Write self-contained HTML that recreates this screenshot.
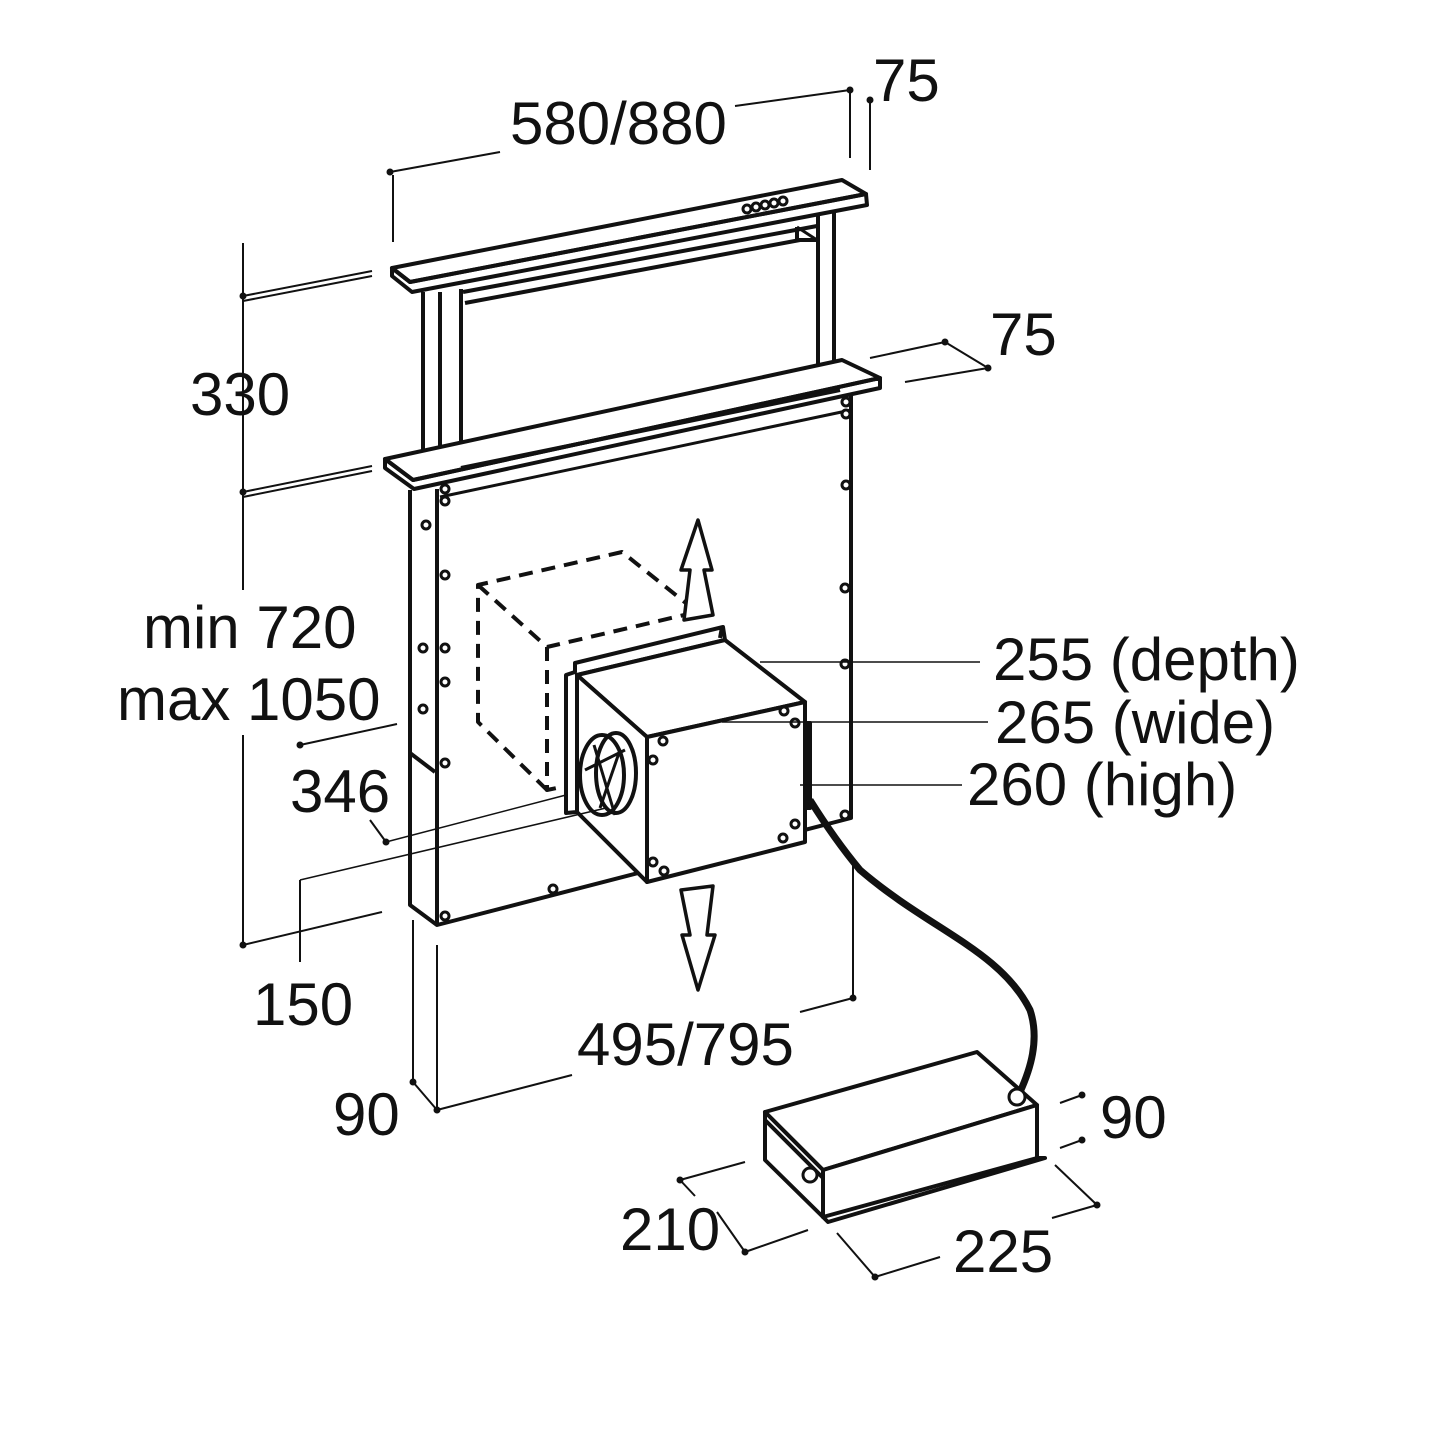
<!DOCTYPE html>
<html><head><meta charset="utf-8"><style>
html,body{margin:0;padding:0;background:#fff}
svg{display:block}
text{font-family:"Liberation Sans",sans-serif;font-size:60px;fill:#111}
</style></head><body>
<svg width="1445" height="1445" viewBox="0 0 1445 1445" xmlns="http://www.w3.org/2000/svg">
<g fill="none" stroke="#111" stroke-width="4" stroke-linejoin="round">
<polygon points="392,268 842,180 866,194 410,282" fill="#fff"/>
<polygon points="410,282 866,194 867,205 412,292 392,276 392,268"/>
<polyline points="423,292 423,467"/><polyline points="440,292 440,470"/><polyline points="461,289 461,465"/>
<polyline points="818,214 818,385"/><polyline points="834,211 834,382"/>
<polyline points="463,292 817,226"/><polyline points="465,303 800,240"/>
<polyline points="797,227 797,240 817,240"/><line x1="797" y1="227" x2="817" y2="240" stroke-width="3"/>
<polyline points="461,460 818,390"/>
<g stroke-width="3"><circle cx="747" cy="209" r="4"/><circle cx="756" cy="207" r="4"/><circle cx="765" cy="205" r="4"/><circle cx="774" cy="203" r="4"/><circle cx="783" cy="201" r="4"/></g>
<polygon points="385,459 842,360 880,378 413,480" fill="#fff"/>
<polygon points="413,480 880,378 880,388 414,489 385,468 385,459"/>
<polyline points="461,468 840,390"/>
<polyline points="410,490 410,905 437,925 851,818 851,395"/>
<polyline points="437,489 437,925"/>
<polyline points="410,753 435,772"/>
<polyline points="440,497 851,410" stroke-width="3"/>
<g stroke-dasharray="14,9">
<polyline points="547,790 478,722 478,585 622,552 697,612"/>
<polyline points="478,585 547,647 697,612"/>
<polyline points="547,647 547,790 566,786"/>
</g>
<polygon points="566,675 575,672 575,663 723,627 725,640 577,675 577,812 566,813" fill="#fff"/>
<polygon points="577,675 725,640 805,702 647,737" fill="#fff"/>
<polygon points="577,675 647,737 647,882 577,812" fill="#fff"/>
<polygon points="647,737 805,702 805,842 647,882" fill="#fff"/>
<line x1="720" y1="638" x2="722" y2="627"/>
<ellipse cx="602" cy="775" rx="22" ry="40"/><ellipse cx="616" cy="773" rx="20" ry="40"/>
<line x1="585" y1="770" x2="625" y2="750" stroke-width="3"/><line x1="594" y1="745" x2="615" y2="815" stroke-width="3"/><line x1="600" y1="808" x2="620" y2="750" stroke-width="3"/>
<rect x="805" y="723" width="5" height="85" fill="#111"/>
<path d="M810,800 Q835,840 860,870 C930,930 1000,950 1030,1010 C1040,1040 1030,1070 1020,1092" stroke-width="7"/>
<polygon points="698,520 712,570 704,570 713,615 684,620 690,570 681,570" fill="#fff" stroke-width="3.5"/>
<polygon points="681,890 713,886 707,935 715,935 698,990 682,935 690,935" fill="#fff" stroke-width="3.5"/>
<polygon points="765,1112 977,1052 1037,1105 823,1170" fill="#fff"/>
<polygon points="823,1170 1037,1105 1037,1158 823,1217" fill="#fff"/>
<polygon points="765,1112 823,1170 823,1217 765,1160" fill="#fff"/>
<polyline points="765,1120 823,1178"/><polyline points="823,1217 828,1222 1045,1158 1037,1158"/>
<circle cx="1017" cy="1097" r="8" fill="#fff" stroke-width="3"/><circle cx="810" cy="1175" r="7" fill="#fff" stroke-width="3"/>
</g>
<g fill="#fff" stroke="#111" stroke-width="3">
<circle cx="445" cy="489" r="4"/><circle cx="445" cy="501" r="4"/><circle cx="846" cy="402" r="4"/><circle cx="846" cy="414" r="4"/><circle cx="846" cy="485" r="4"/>
<circle cx="426" cy="525" r="4"/><circle cx="445" cy="575" r="4"/><circle cx="845" cy="588" r="4"/><circle cx="423" cy="648" r="4"/><circle cx="445" cy="648" r="4"/>
<circle cx="445" cy="682" r="4"/><circle cx="423" cy="709" r="4"/><circle cx="845" cy="664" r="4"/><circle cx="445" cy="763" r="4"/><circle cx="845" cy="815" r="4"/>
<circle cx="553" cy="889" r="4"/><circle cx="445" cy="916" r="4"/>
<circle cx="663" cy="741" r="4"/><circle cx="653" cy="760" r="4"/><circle cx="784" cy="711" r="4"/><circle cx="795" cy="723" r="4"/>
<circle cx="795" cy="824" r="4"/><circle cx="783" cy="838" r="4"/><circle cx="653" cy="862" r="4"/><circle cx="664" cy="871" r="4"/>
</g>
<g stroke="#111" stroke-width="2" fill="none">
<line x1="390" y1="172" x2="500" y2="152"/><line x1="735" y1="106" x2="850" y2="90"/>
<line x1="393" y1="175" x2="393" y2="242"/><line x1="850" y1="92" x2="850" y2="158"/><line x1="870" y1="100" x2="870" y2="170"/>
<line x1="243" y1="243" x2="243" y2="590"/><line x1="243" y1="735" x2="243" y2="945"/>
<line x1="243" y1="296" x2="372" y2="271"/><line x1="243" y1="301" x2="372" y2="276"/>
<line x1="243" y1="492" x2="372" y2="466"/><line x1="243" y1="497" x2="372" y2="471"/>
<line x1="243" y1="945" x2="382" y2="912"/>
<line x1="300" y1="745" x2="397" y2="724"/><line x1="370" y1="820" x2="386" y2="842"/>
<line x1="386" y1="842" x2="566" y2="795" stroke-width="1.5"/>
<line x1="300" y1="880" x2="606" y2="808" stroke-width="1.5"/><line x1="300" y1="880" x2="300" y2="962"/>
<line x1="870" y1="358" x2="945" y2="342"/><line x1="945" y1="342" x2="988" y2="368"/><line x1="905" y1="382" x2="988" y2="368"/>
<line x1="760" y1="662" x2="980" y2="662" stroke-width="1.5"/><line x1="722" y1="722" x2="988" y2="722" stroke-width="1.5"/><line x1="800" y1="785" x2="962" y2="785" stroke-width="1.5"/>
<line x1="437" y1="945" x2="437" y2="1110"/><line x1="853" y1="860" x2="853" y2="998"/>
<line x1="437" y1="1110" x2="572" y2="1075"/><line x1="800" y1="1012" x2="853" y2="998"/>
<line x1="413" y1="920" x2="413" y2="1082"/><line x1="413" y1="1082" x2="437" y2="1110"/>
<line x1="1060" y1="1103" x2="1082" y2="1095"/><line x1="1060" y1="1148" x2="1082" y2="1140"/>
<line x1="1055" y1="1165" x2="1097" y2="1205"/><line x1="1052" y1="1218" x2="1097" y2="1205"/>
<line x1="837" y1="1233" x2="875" y2="1277"/><line x1="875" y1="1277" x2="940" y2="1257"/>
<line x1="680" y1="1180" x2="745" y2="1162"/><line x1="680" y1="1180" x2="695" y2="1196"/>
<line x1="717" y1="1212" x2="745" y2="1252"/><line x1="745" y1="1252" x2="808" y2="1230"/>
</g>
<g fill="#111">
<circle cx="390" cy="172" r="3.5"/><circle cx="850" cy="90" r="3.5"/><circle cx="870" cy="100" r="3.5"/>
<circle cx="243" cy="296" r="3.5"/><circle cx="243" cy="492" r="3.5"/><circle cx="243" cy="945" r="3.5"/>
<circle cx="300" cy="745" r="3.5"/><circle cx="386" cy="842" r="3.5"/>
<circle cx="945" cy="342" r="3.5"/><circle cx="988" cy="368" r="3.5"/>
<circle cx="437" cy="1110" r="3.5"/><circle cx="853" cy="998" r="3.5"/><circle cx="413" cy="1082" r="3.5"/>
<circle cx="1082" cy="1095" r="3.5"/><circle cx="1082" cy="1140" r="3.5"/><circle cx="1097" cy="1205" r="3.5"/>
<circle cx="875" cy="1277" r="3.5"/><circle cx="680" cy="1180" r="3.5"/><circle cx="745" cy="1252" r="3.5"/>
</g>
<text x="873" y="101">75</text>
<text x="510" y="144">580/880</text>
<text x="990" y="355">75</text>
<text x="190" y="415">330</text>
<text x="143" y="648">min 720</text>
<text x="117" y="720">max 1050</text>
<text x="290" y="812">346</text>
<text x="993" y="680">255 (depth)</text>
<text x="995" y="743">265 (wide)</text>
<text x="967" y="805">260 (high)</text>
<text x="253" y="1025">150</text>
<text x="577" y="1065">495/795</text>
<text x="333" y="1135">90</text>
<text x="1100" y="1138">90</text>
<text x="620" y="1250">210</text>
<text x="953" y="1272">225</text>
</svg>
</body></html>
